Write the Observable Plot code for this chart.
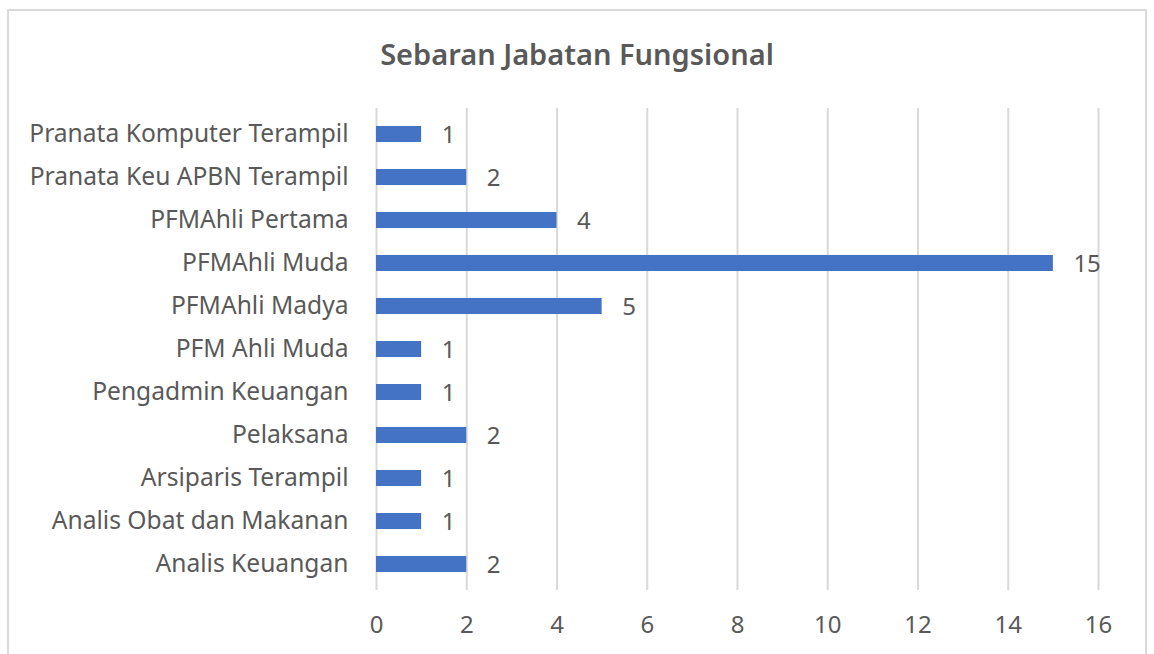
<!DOCTYPE html>
<html>
<head>
<meta charset="utf-8">
<script src="https://cdn.jsdelivr.net/npm/d3@7"></script>
<script src="https://cdn.jsdelivr.net/npm/@observablehq/plot@0.6"></script>
<style>
  html, body { margin: 0; padding: 0; background: #fff; }
  body { width: 1154px; height: 654px; position: relative; overflow: hidden; font-family: "Noto Sans", "Open Sans", sans-serif; }
  #frame { position: absolute; left: 7px; top: 9px; width: 1140px; height: 700px; border: 2px solid #d9d9d9; box-sizing: border-box; pointer-events: none; }
  #title { height: 88px; box-sizing: border-box; padding-top: 36px; text-align: center; font-size: 29px; font-weight: 600; color: #595959; line-height: 36px; }
  #chart svg { display: block; }
</style>
</head>
<body>
<div id="frame"></div>
<div id="title">Sebaran Jabatan Fungsional</div>
<div id="chart"></div>
<script>
const categories = [
  "Pranata Komputer Terampil",
  "Pranata Keu APBN Terampil",
  "PFMAhli Pertama",
  "PFMAhli Muda",
  "PFMAhli Madya",
  "PFM Ahli Muda",
  "Pengadmin Keuangan",
  "Pelaksana",
  "Arsiparis Terampil",
  "Analis Obat dan Makanan",
  "Analis Keuangan"
];
const counts = [1, 2, 4, 15, 5, 1, 1, 2, 1, 1, 2];
const xTicks = [0, 2, 4, 6, 8, 10, 12, 14, 16];

const data = categories.map((c, i) => ({category: c, count: counts[i]}));

const font = '"Noto Sans", "Open Sans", sans-serif';
const chart = Plot.plot({
  width: 1154,
  height: 566,
  marginTop: 20,
  marginBottom: 64,
  marginLeft: 376,
  marginRight: 56,
  style: {fontFamily: font, fontSize: "24px", color: "#595959", background: "transparent"},
  x: {domain: [0, 16], ticks: xTicks, label: null},
  y: {domain: categories, paddingInner: 0.63, paddingOuter: 0.315, label: null},
  marks: [
    Plot.gridX(xTicks, {stroke: "#d9d9d9", strokeOpacity: 1, strokeWidth: 2}),
    Plot.axisX(xTicks, {tickSize: 0, tickPadding: 25, fontSize: 24, fill: "#595959", label: null}),
    Plot.axisY({tickSize: 0, tickPadding: 28, fontSize: 24.6, fill: "#595959", label: null}),
    Plot.barX(data, {x: "count", y: "category", fill: "#4472c4"}),
    Plot.text(data, {x: "count", y: "category", text: d => String(d.count), textAnchor: "start", dx: 20, dy: 1, fill: "#595959", fontSize: 24})
  ]
});
document.getElementById("chart").appendChild(chart);
</script>
</body>
</html>
